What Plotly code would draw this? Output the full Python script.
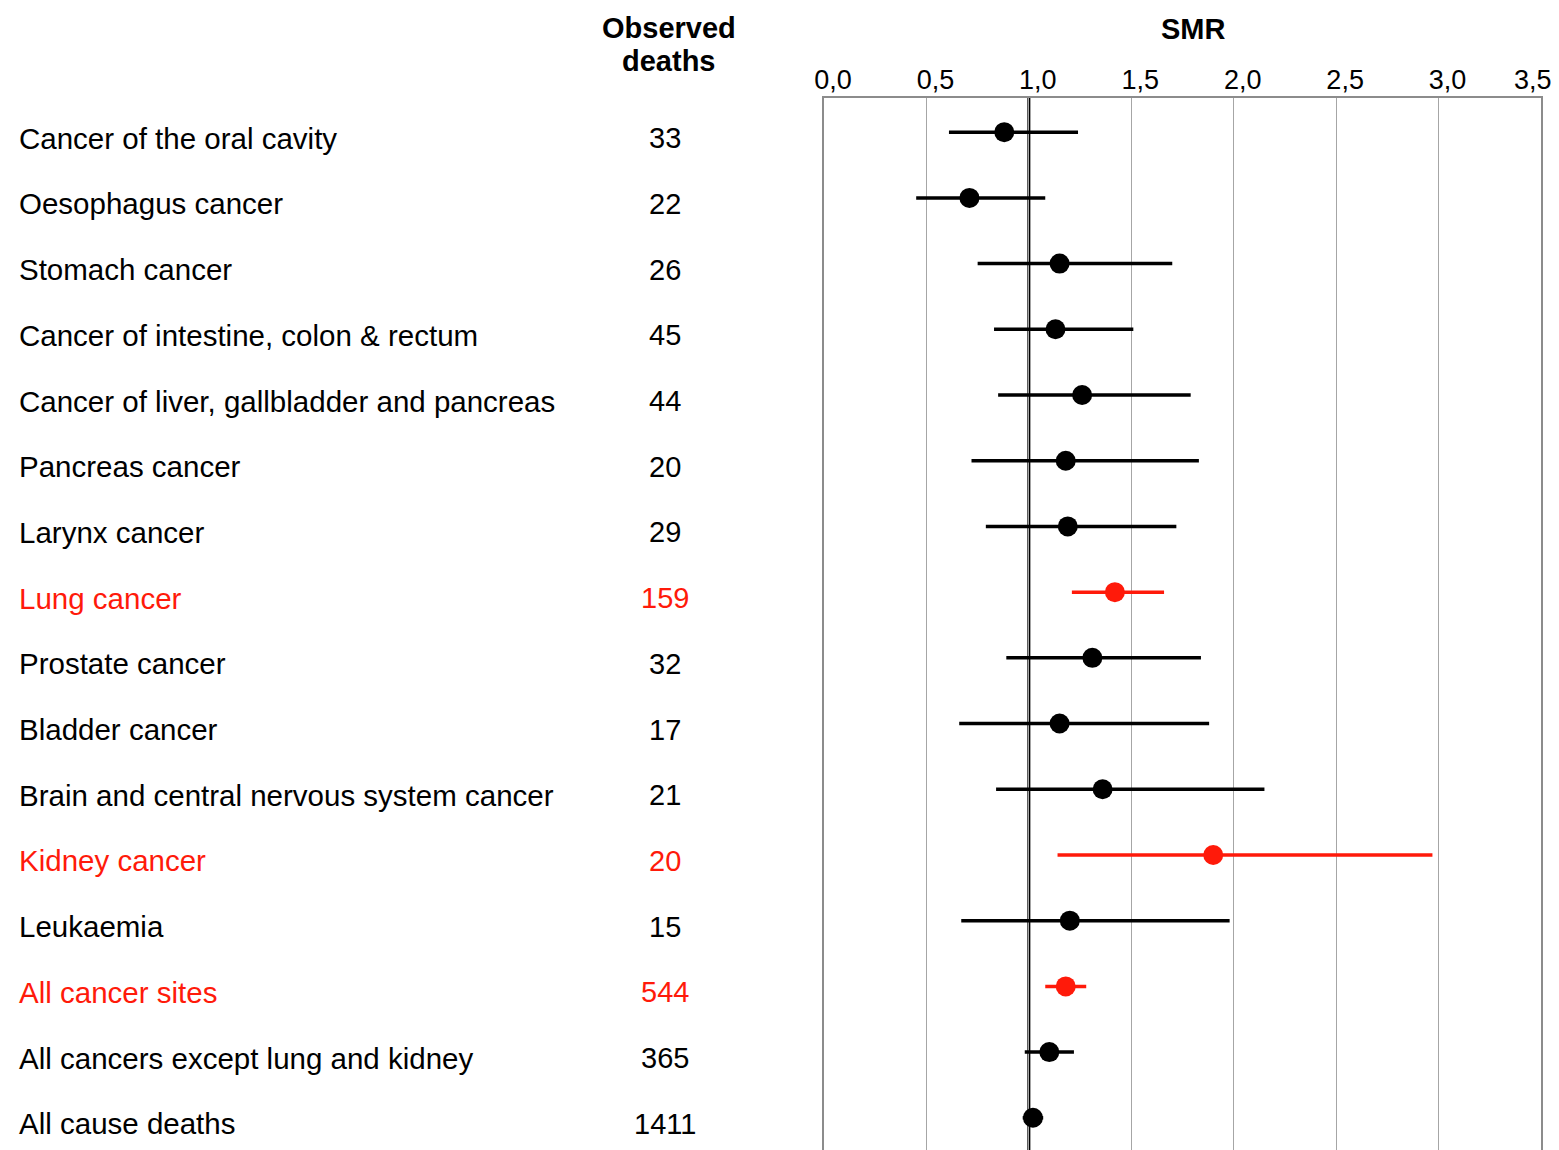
import plotly.graph_objects as go

# Cause of death, observed deaths, standardised mortality ratio and 95% CI
causes = [
    "Cancer of the oral cavity",
    "Oesophagus cancer",
    "Stomach cancer",
    "Cancer of intestine, colon & rectum",
    "Cancer of liver, gallbladder and pancreas",
    "Pancreas cancer",
    "Larynx cancer",
    "Lung cancer",
    "Prostate cancer",
    "Bladder cancer",
    "Brain and central nervous system cancer",
    "Kidney cancer",
    "Leukaemia",
    "All cancer sites",
    "All cancers except lung and kidney",
    "All cause deaths",
]
observed = [33, 22, 26, 45, 44, 20, 29, 159, 32, 17, 21, 20, 15, 544, 365, 1411]
smr = [0.88, 0.71, 1.15, 1.13, 1.26, 1.18, 1.19, 1.42, 1.31, 1.15, 1.36, 1.90, 1.20, 1.18, 1.10, 1.02]
ci_low = [0.61, 0.45, 0.75, 0.83, 0.85, 0.72, 0.79, 1.21, 0.89, 0.66, 0.84, 1.14, 0.67, 1.08, 0.98, 0.97]
ci_high = [1.24, 1.08, 1.70, 1.51, 1.79, 1.83, 1.72, 1.66, 1.84, 1.88, 2.15, 2.97, 1.98, 1.28, 1.22, 1.07]
significant = [False, False, False, False, False, False, False, True,
               False, False, False, True, False, True, False, False]
smr_ticks = [0, 0.5, 1, 1.5, 2, 2.5, 3, 3.5]

BLACK = "#000000"
RED = "#ff1a0a"
FONT = "Liberation Sans, Arial, sans-serif"

rows = list(range(len(causes)))

fig = go.Figure()

for flag, color in [(False, BLACK), (True, RED)]:
    idx = [i for i in rows if significant[i] == flag]
    fig.add_trace(go.Scatter(
        x=[smr[i] for i in idx],
        y=idx,
        mode="markers",
        marker=dict(symbol="circle", size=20, color=color),
        error_x=dict(
            type="data",
            symmetric=False,
            array=[ci_high[i] - smr[i] for i in idx],
            arrayminus=[smr[i] - ci_low[i] for i in idx],
            color=color,
            thickness=3.5,
            width=0,
        ),
        showlegend=False,
        hoverinfo="skip",
        cliponaxis=False,
    ))

# reference line at SMR = 1, above the grid but beneath the markers
fig.add_shape(type="line", xref="x", yref="paper", x0=1, x1=1, y0=0, y1=1,
              line=dict(color=BLACK, width=3), layer="between")

annotations = []
for i in rows:
    color = RED if significant[i] else BLACK
    annotations.append(dict(
        text=causes[i], xref="paper", yref="y", x=-1.1255, y=i,
        xanchor="left", yanchor="middle", yshift=-6, showarrow=False,
        font=dict(family=FONT, size=29.5, color=color),
    ))
    annotations.append(dict(
        text=str(observed[i]), xref="paper", yref="y", x=-0.222, y=i,
        xanchor="center", yanchor="middle", yshift=-6, showarrow=False,
        font=dict(family=FONT, size=29, color=color),
    ))

# column headers
annotations += [
    dict(text="<b>Observed</b>", xref="paper", yref="paper", x=-0.2165, y=1.067,
         xanchor="center", yanchor="middle", showarrow=False,
         font=dict(family=FONT, size=29, color=BLACK)),
    dict(text="<b>deaths</b>", xref="paper", yref="paper", x=-0.2165, y=1.035,
         xanchor="center", yanchor="middle", showarrow=False,
         font=dict(family=FONT, size=29, color=BLACK)),
    dict(text="<b>SMR</b>", xref="paper", yref="paper", x=0.515, y=1.066,
         xanchor="center", yanchor="middle", showarrow=False,
         font=dict(family=FONT, size=29, color=BLACK)),
]

# the last tick label sits at the frame edge, so it is pulled inward
last_tick = smr_ticks[-1]
annotations.append(dict(
    text=f"{last_tick:.1f}".replace(".", ","), xref="x", yref="paper",
    x=last_tick, y=1, xanchor="center", yanchor="middle",
    xshift=-8, yshift=18, showarrow=False,
    font=dict(family=FONT, size=27, color=BLACK),
))

fig.update_layout(
    width=1559, height=1150,
    margin=dict(l=824, r=18, t=98, b=0),
    paper_bgcolor="white", plot_bgcolor="white",
    separators=", ",
    annotations=annotations,
    xaxis=dict(
        side="top", range=[0, 3.5], tickvals=smr_ticks,
        ticktext=[f"{v:.1f}".replace(".", ",") for v in smr_ticks[:-1]] + [""],
        showgrid=True, gridcolor="#a6a6a6", gridwidth=1,
        showline=True, linecolor="#8c8c8c", linewidth=2, mirror=False,
        zeroline=False, ticks="", ticklabelshift=9, ticklabelstandoff=-4,
        ticklabeloverflow="allow", automargin=False,
        tickfont=dict(family=FONT, size=27, color=BLACK),
    ),
    yaxis=dict(
        range=[15.49, -0.52], showticklabels=False, showgrid=False,
        zeroline=False, showline=True, linecolor="#8c8c8c", linewidth=2,
        mirror=True, ticks="", automargin=False,
    ),
)

fig.write_html("out.html")
